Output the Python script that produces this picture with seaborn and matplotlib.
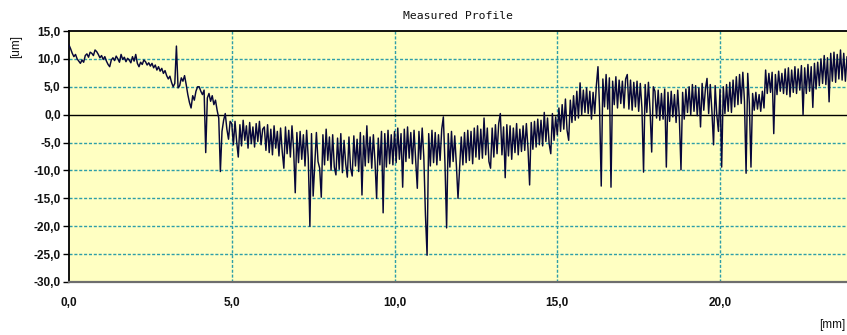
import numpy as np
import pandas as pd
import matplotlib
matplotlib.use("Agg")
import matplotlib.pyplot as plt
from matplotlib.ticker import FuncFormatter
import seaborn as sns

# Surface height profile, sampled every 0.05 mm (one row per millimetre)
step_mm = 0.05
profile_um = [
    12.5, 11.8, 11.0, 10.4, 10.8, 10.0, 9.6, 9.2, 9.8, 9.4, 10.6, 10.9, 10.3, 11.2, 11.0, 10.6, 11.6, 11.3, 10.8, 10.2,
    10.6, 9.9, 10.4, 9.6, 9.0, 8.6, 9.8, 10.2, 9.7, 10.5, 10.0, 9.4, 10.8, 9.9, 10.3, 9.5, 10.1, 9.8, 9.3, 10.4,
    9.6, 10.8, 9.2, 8.6, 9.4, 9.0, 9.8, 9.5, 8.9, 9.3, 8.7, 9.2, 8.4, 8.9, 8.0, 8.6, 7.8, 8.3, 7.4, 7.9,
    7.0, 6.4, 6.9, 5.8, 5.0, 5.6, 12.3, 4.8, 5.2, 6.6, 6.0, 7.0, 5.4, 3.6, 2.2, 1.2, 3.4, 2.6, 4.2, 5.0,
    5.0, 4.2, 3.6, 4.4, -6.8, 3.0, 3.8, 2.4, 3.4, 1.8, 2.6, 0.8, -0.6, -10.2, -3.0, -1.0, 0.2, -2.6, -4.4, -1.2,
    -1.6, -5.4, -1.2, -4.8, -7.6, -1.8, -5.6, -1.0, -4.6, -2.0, -6.0, -1.4, -5.2, -2.2, -5.8, -1.6, -4.8, -1.2, -5.4, -2.6,
    -2.2, -6.4, -1.8, -6.8, -2.6, -7.2, -2.0, -6.0, -3.0, -7.4, -2.4, -6.6, -9.6, -2.2, -7.0, -2.8, -7.6, -2.0, -6.2, -14.0,
    -3.2, -8.6, -3.0, -8.0, -3.6, -9.2, -2.8, -7.8, -20.0, -3.4, -14.6, -8.8, -3.2, -8.4, -9.6, -14.8, -3.6, -9.0, -2.6, -8.2,
    -4.0, -10.0, -3.6, -9.4, -10.8, -4.2, -9.8, -3.4, -10.4, -4.6, -8.8, -11.2, -4.0, -9.6, -11.0, -3.8, -9.2, -4.4, -10.2, -3.2,
    -14.4, -3.8, -9.2, -2.0, -8.6, -4.0, -9.6, -3.6, -8.4, -15.0, -4.2, -9.0, -3.0, -17.6, -3.4, -9.4, -2.8, -8.8, -3.6, -9.0,
    -3.0, -8.6, -2.4, -8.0, -3.4, -13.0, -2.6, -8.4, -2.2, -7.8, -3.2, -8.8, -2.8, -8.2, -13.2, -3.0, -8.0, -2.4, -7.6, -18.0,
    -25.2, -3.4, -9.2, -2.8, -8.6, -3.2, -9.0, -3.6, -8.2, -2.6, -0.4, -8.8, -20.3, -3.4, -9.4, -3.0, -8.4, -3.8, -9.0, -15.0,
    -9.4, -4.0, -9.0, -3.2, -8.6, -2.8, -8.2, -3.0, -8.8, -2.4, -7.6, -2.0, -8.0, -2.6, -7.8, -0.6, -7.2, -2.4, -8.4, -9.6,
    -2.4, -7.6, -1.8, -7.0, -1.6, 0.2, -7.2, -2.2, -11.3, -1.8, -7.4, -2.0, -8.0, -2.4, -6.8, -1.6, -7.2, -2.6, -6.6, -2.0,
    -6.4, -1.6, -6.0, -12.6, -1.4, -6.2, -1.2, -5.8, -0.8, -5.4, -1.0, -5.6, 0.4, -4.8, -0.6, -5.2, -7.0, 0.2, -4.6, -0.4,
    -3.6, 1.2, -3.0, 1.8, -2.6, 2.8, -2.8, -4.6, 2.6, -1.4, 3.4, -1.0, 4.2, -0.6, 5.7, 0.0, 4.4, 0.4, 4.8, 0.2,
    4.2, -0.8, 4.0, 0.2, 5.2, 8.6, 1.0, -12.8, 6.4, 1.4, 7.2, 1.0, 6.6, -13.0, 6.0, 1.8, 6.8, 1.2, 6.2, 2.0,
    6.0, 1.2, 6.4, 7.2, 1.0, 6.2, 0.8, 5.8, 1.4, 6.0, 0.6, 5.6, 1.2, -10.3, 5.4, 0.4, 5.8, 0.8, -6.7, 5.0,
    4.2, -0.6, 4.4, -1.0, 3.8, -0.8, 4.6, -9.4, 4.0, -1.2, 4.2, -0.4, 3.6, -1.4, 4.4, -0.6, -9.9, 4.0, -0.8, 4.6,
    0.4, 5.0, 0.0, 5.4, 0.6, 5.2, -0.2, 4.8, -2.2, 5.6, 0.8, 4.6, 6.5, 0.2, 5.4, 0.6, -5.4, 5.2, 0.0, -3.0,
    4.6, -9.4, 5.0, 0.2, 5.4, 0.6, 5.8, 0.4, 6.2, 1.4, 6.8, 1.8, 7.2, 2.0, 7.6, 2.4, -10.5, 7.4, 2.0, -9.4,
    3.8, 0.8, 4.0, 1.0, 3.6, 0.6, 4.2, 1.2, 8.0, 3.8, 7.4, 4.0, 7.6, -3.4, 7.2, 3.6, 7.8, 4.2, 7.4, 3.8,
    8.2, 3.6, 8.4, 3.2, 8.0, 4.0, 8.6, 3.8, 8.2, 4.4, 8.8, 0.0, 8.4, 3.8, 9.0, 4.2, 8.6, 1.3, 9.2, 4.6,
    9.4, 5.2, 10.0, 5.6, 10.6, 5.4, 10.2, 2.3, 11.0, 6.0, 11.2, 5.8, 10.8, 6.4, 11.6, 6.2, 11.0, 6.0, 10.4, 7.6,
]
position_mm = np.arange(len(profile_um)) * step_mm

x_ticks = [0, 5, 10, 15, 20]
y_ticks = [-30, -25, -20, -15, -10, -5, 0, 5, 10, 15]

df = pd.DataFrame({"position": position_mm, "height": profile_um})

sns.set_style("white")
plt.rcParams["font.family"] = ["Liberation Sans", "DejaVu Sans"]

W, H = 847, 335
fig = plt.figure(figsize=(W / 100, H / 100), dpi=100)
ax = fig.add_axes([69 / W, 1 - 282 / H, (W - 69) / W, (282 - 31) / H])
ax.set_facecolor("#FFFFC2")

grid_kw = dict(color="#2E9EA8", lw=1.0, ls=(0, (2.2, 1.3)), zorder=1)
for xv in x_ticks[1:]:
    ax.axvline(xv, **grid_kw)
for yv in y_ticks:
    if yv not in (0, -30, 15):
        ax.axhline(yv, **grid_kw)
ax.axhline(0, color="black", lw=1.0, zorder=2)

sns.lineplot(data=df, x="position", y="height", ax=ax, color="#07073A",
             lw=1.05, estimator=None, sort=False, zorder=3)

ax.set_xlim(0, 23.9)
ax.set_ylim(-30, 15)
ax.set_xticks(x_ticks)
ax.set_yticks(y_ticks)
fmt = FuncFormatter(lambda v, p: f"{v:.1f}".replace(".", ","))
ax.xaxis.set_major_formatter(fmt)
ax.yaxis.set_major_formatter(fmt)
ax.tick_params(axis="y", length=4, width=1, color="black", pad=2,
               labelsize=8.5, left=True)
ax.tick_params(axis="x", length=0, pad=11, labelsize=8.5)
for lab in ax.get_xticklabels() + ax.get_yticklabels():
    lab.set_fontweight("bold")
    lab.set_color("#111111")

ax.set_xlabel("")
ax.set_ylabel("")
for side in ("left", "top"):
    ax.spines[side].set_color("black")
    ax.spines[side].set_linewidth(1.3)
ax.spines["bottom"].set_color("#6E6E6E")
ax.spines["bottom"].set_linewidth(1.6)
ax.spines["right"].set_visible(False)

fig.text(458 / W, 1 - 16 / H, "Measured Profile", ha="center", va="center",
         fontsize=8.2, family="DejaVu Sans Mono", color="#111111")
fig.text(16 / W, 1 - 46 / H, "[um]", ha="center", va="center", rotation=90,
         fontsize=8.5, color="#111111")
fig.text(832 / W, 1 - 325 / H, "[mm]", ha="center", va="center",
         fontsize=8.5, color="#111111")

fig.savefig("out.png", dpi=100)
